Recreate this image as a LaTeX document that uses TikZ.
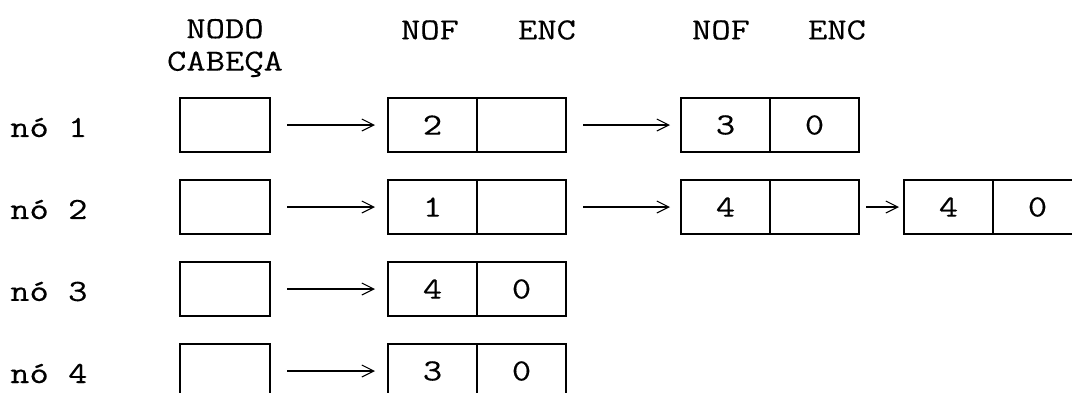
\documentclass[tikz,border=0pt]{standalone}
\usepackage{fontspec}
\setmonofont{Latin Modern Mono}[FakeStretch=1.22,FakeBold=0.3]
\usetikzlibrary{arrows.meta}

\begin{document}
\begin{tikzpicture}[
        every node/.style={font=\ttfamily\fontsize{17.5}{18.5}\selectfont},
        cabeca/.style={draw,line width=1pt,minimum width=1.8cm,minimum height=1.08cm,inner sep=0pt,outer sep=0pt},
        celula/.style={draw,line width=1pt,minimum width=1.78cm,minimum height=1.08cm,inner sep=0pt,outer sep=0pt},
        seta/.style={-{Straight Barb[length=2.4mm,width=2.4mm]},line width=0.6pt}
    ]
        \useasboundingbox (0,0) rectangle (21.44,-7.84);

        %%%%%%%% Titoli %%%%%%%%%
        \node[align=center] (titcab) at (4.5,-0.96) {NODO\\CABEÇA};
        \node (nof1) at (8.6,-0.6) {NOF};
        \node (enc1) at (10.94,-0.6) {ENC};
        \node (nof2) at (14.42,-0.6) {NOF};
        \node (enc2) at (16.74,-0.6) {ENC};

        %%%%%%%% Nodi cabeca %%%%%%%%%
        \foreach \i/\y in {1/-2.5,2/-4.14,3/-5.78,4/-7.42} {
            \node[anchor=west] (no\i) at (0.08,\y-0.05) {nó \i};
            \node[cabeca] (cab\i) at (4.5,\y) {};
        }

        %%%%%%%% Liste %%%%%%%%%
        \node[celula] (n1a) at (8.65,-2.5) {2};
        \node[celula,anchor=west] (e1a) at (n1a.east) {};
        \node[celula] (n1b) at (14.51,-2.5) {3};
        \node[celula,anchor=west] (e1b) at (n1b.east) {0};

        \node[celula] (n2a) at (8.65,-4.14) {1};
        \node[celula,anchor=west] (e2a) at (n2a.east) {};
        \node[celula] (n2b) at (14.51,-4.14) {4};
        \node[celula,anchor=west] (e2b) at (n2b.east) {};
        \node[celula] (n2c) at (18.97,-4.14) {4};
        \node[celula,anchor=west] (e2c) at (n2c.east) {0};

        \node[celula] (n3a) at (8.65,-5.78) {4};
        \node[celula,anchor=west] (e3a) at (n3a.east) {0};

        \node[celula] (n4a) at (8.65,-7.42) {3};
        \node[celula,anchor=west] (e4a) at (n4a.east) {0};

        %%%%%%%% Frecce %%%%%%%%%
        \foreach \i in {1,2,3,4}
            \draw[seta,shorten <=0.34cm,shorten >=0.26cm] (cab\i.east) -- (n\i a.west);

        \draw[seta,shorten <=0.34cm,shorten >=0.22cm] (e1a.east) -- (n1b.west);
        \draw[seta,shorten <=0.34cm,shorten >=0.22cm] (e2a.east) -- (n2b.west);
        \draw[seta,shorten <=0.14cm,shorten >=0.1cm] (e2b.east) -- (n2c.west);

    \end{tikzpicture}
\end{document}
